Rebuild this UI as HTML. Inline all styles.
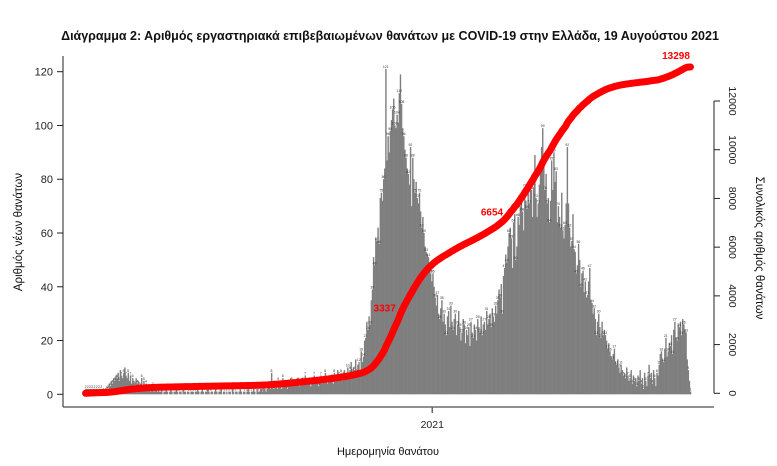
<!DOCTYPE html>
<html><head><meta charset="utf-8"><style>
html,body{margin:0;padding:0;background:#fff;}
svg{display:block;font-family:"Liberation Sans","DejaVu Sans",sans-serif;}
</style></head><body>
<svg id="chart" width="777" height="466" viewBox="0 0 777 466" xmlns="http://www.w3.org/2000/svg">
<text x="390" y="40" text-anchor="middle" font-size="12.5" font-weight="bold" fill="#111">Διάγραμμα 2: Αριθμός εργαστηριακά επιβεβαιωμένων θανάτων με COVID-19 στην Ελλάδα, 19 Αυγούστου 2021</text>
<g id="bars"></g>
<g id="vlabels"></g>
<path id="cum" fill="none" stroke="#ff0000" stroke-width="7" stroke-linecap="round" stroke-linejoin="round"></path>
<g id="cumlabels"></g>
<g id="axes"></g>
<text transform="translate(22,232) rotate(-90)" text-anchor="middle" font-size="11.5" fill="#111">Αριθμός νέων θανάτων</text>
<text transform="translate(756,248) rotate(90)" text-anchor="middle" font-size="11.5" fill="#111">Συνολικός αριθμός θανάτων</text>
<text x="388" y="455" text-anchor="middle" font-size="11" fill="#111">Ημερομηνία θανάτου</text>
</svg>
<script>
const startLabel = "2020-02-26";
const daily = [
2,2,2,2,2,2,2,2,2,2,2,2,2,2,2,
1,1,2,1,3,2,4,3,5,4,6,5,7,6,8,5,9,7,6,8,
10,7,6,8,5,7,4,6,5,3,6,4,5,3,4,6,3,5,2,4,3,2,3,1,2,3,1,2,2,1,
2,1,1,2,0,1,1,2,1,0,1,2,1,0,1,1,2,1,0,1,1,0,2,1,1,0,1,1,0,1,1,
1,0,1,1,2,1,0,1,2,1,0,1,1,2,1,0,1,1,0,1,2,1,0,1,1,2,0,1,1,0,
1,0,1,1,0,2,1,0,1,1,0,1,2,1,0,1,1,0,1,2,1,0,1,1,3,1,0,2,1,1,2,
2,1,3,2,1,2,4,3,2,8,3,2,4,3,2,5,4,3,2,6,4,3,5,2,4,3,6,5,4,3,5,
4,6,5,3,4,6,5,4,7,5,4,6,5,3,4,6,7,5,4,6,3,5,7,4,5,6,8,5,4,6,
5,7,6,4,8,6,5,9,7,6,8,5,7,9,6,8,10,7,9,12,8,10,9,13,8,11,12,9,16,12,14,
20,21,27,24,29,26,35,39,51,48,58,57,62,56,73,75,72,80,84,121,87,96,90,98,102,106,110,100,99,104,
101,112,119,108,99,96,91,88,84,82,78,92,70,88,80,75,79,73,71,75,68,62,66,60,55,53,52,51,47,45,42,
45,40,36,33,37,30,28,32,35,27,30,26,22,29,31,25,33,27,24,28,30,22,26,31,25,20,23,28,26,19,24,
22,25,18,27,23,21,26,24,20,28,25,23,29,22,26,27,24,31,26,28,30,25,32,29,27,33,30,35,
39,36,41,30,44,47,52,49,55,60,62,58,47,64,67,50,55,66,63,70,73,68,61,77,72,69,75,71,80,76,66,
77,89,73,66,71,78,84,92,99,88,76,82,71,73,64,72,87,76,90,79,83,64,70,66,62,75,61,58,63,71,
92,71,62,55,57,67,54,53,45,48,56,50,40,45,46,38,42,36,37,42,47,35,34,30,32,28,22,27,30,25,21,
27,22,24,22,20,17,19,16,14,13,15,17,12,11,13,10,8,11,9,7,8,6,10,7,5,6,9,4,7,5,
6,3,7,5,9,4,6,2,8,5,3,7,11,6,8,4,9,6,3,8,7,11,15,16,13,12,17,21,14,16,19,
18,22,15,24,27,21,20,26,25,27,22,28,26,24,23,13,9,5,1
];
const leftTicks = [0,20,40,60,80,100,120];
const rightTicks = [0,2000,4000,6000,8000,10000,12000];
const xTickLabels = ["2021"];
const xTickIndex = [310];
const cumLabelText = ["3337","6654","13298"];
const cumLabelIndex = [281,375,540];

const NS = "http://www.w3.org/2000/svg";
const X0 = 85, X1 = 691;
const bw = (X1 - X0) / daily.length;
function xs(i){ return X0 + i * bw; }
function yl(v){ return 394.3 - v * (322.6 / 120); }
function yr(v){ return 393.3 - v * (292.3 / 12000); }
function mk(tag, attrs, parent){
  const e = document.createElementNS(NS, tag);
  for (const k in attrs) e.setAttribute(k, attrs[k]);
  parent.appendChild(e);
  return e;
}
const gb = document.getElementById('bars');
const gl = document.getElementById('vlabels');
daily.forEach((v, i) => {
  const r = mk('rect', {x: xs(i).toFixed(2), y: yl(v).toFixed(2), width: (bw + 0.3).toFixed(2), height: (yl(0) - yl(v)).toFixed(2), fill: '#7f7f7f'}, gb);
  
  
  if (i % 2 === 0 && v > 0) {
    const t = mk('text', {x: (xs(i) + bw/2).toFixed(2), y: (yl(v) - 1).toFixed(2), 'font-size': '3.5', 'text-anchor': 'middle', fill: '#333'}, gl);
    
    
    t.textContent = v;
  }
});
// cumulative
let c = 0; const cum = [];
daily.forEach(v => { c += v; cum.push(c); });
let d = '';
cum.forEach((v, i) => { d += (i ? 'L' : 'M') + (xs(i) + bw/2).toFixed(2) + ' ' + yr(v).toFixed(2); });
document.getElementById('cum').setAttribute('d', d);
const gc = document.getElementById('cumlabels');
const offs = [[-4, -3, 'end'], [-2, -3, 'end'], [0, -8, 'end']];
cumLabelText.forEach((s, k) => {
  const i = cumLabelIndex[k];
  const t = mk('text', {x: (xs(i) + offs[k][0]).toFixed(1), y: (yr(cum[i]) + offs[k][1]).toFixed(1), 'font-size': '10', 'font-weight': 'bold', 'text-anchor': offs[k][2], fill: '#ff0000'}, gc);
  
  
  t.textContent = s;
});
// axes
const ga = document.getElementById('axes');
let e = mk('line', {x1: 63, y1: 56, x2: 63, y2: 407, stroke: '#222', 'stroke-width': 1}, ga);
 
e = mk('line', {x1: 63, y1: 407, x2: 714, y2: 407, stroke: '#222', 'stroke-width': 1}, ga);
 
e = mk('line', {x1: 714, y1: yr(12000), x2: 714, y2: yr(0), stroke: '#222', 'stroke-width': 1}, ga);
 
leftTicks.forEach(v => {
  const l = mk('line', {x1: 57, y1: yl(v), x2: 63, y2: yl(v), stroke: '#222'}, ga);
   
  const t = mk('text', {x: 53, y: yl(v) + 4, 'font-size': '11', 'text-anchor': 'end', fill: '#222'}, ga);
   
  t.textContent = v;
});
rightTicks.forEach(v => {
  const l = mk('line', {x1: 714, y1: yr(v), x2: 720, y2: yr(v), stroke: '#222'}, ga);
   
  const t = mk('text', {transform: 'translate(' + 729 + ',' + yr(v) + ') rotate(90)', 'font-size': '10.5', 'text-anchor': 'middle', fill: '#222'}, ga);
   
  t.textContent = v;
});
xTickLabels.forEach((s, k) => {
  const x = xs(xTickIndex[k]);
  const l = mk('line', {x1: x, y1: 407, x2: x, y2: 413, stroke: '#666', 'stroke-width': 1.5}, ga);
   
  const t = mk('text', {x: x, y: 428, 'font-size': '10.5', 'text-anchor': 'middle', fill: '#222'}, ga);
   
  t.textContent = s;
});
</script>
</body></html>
